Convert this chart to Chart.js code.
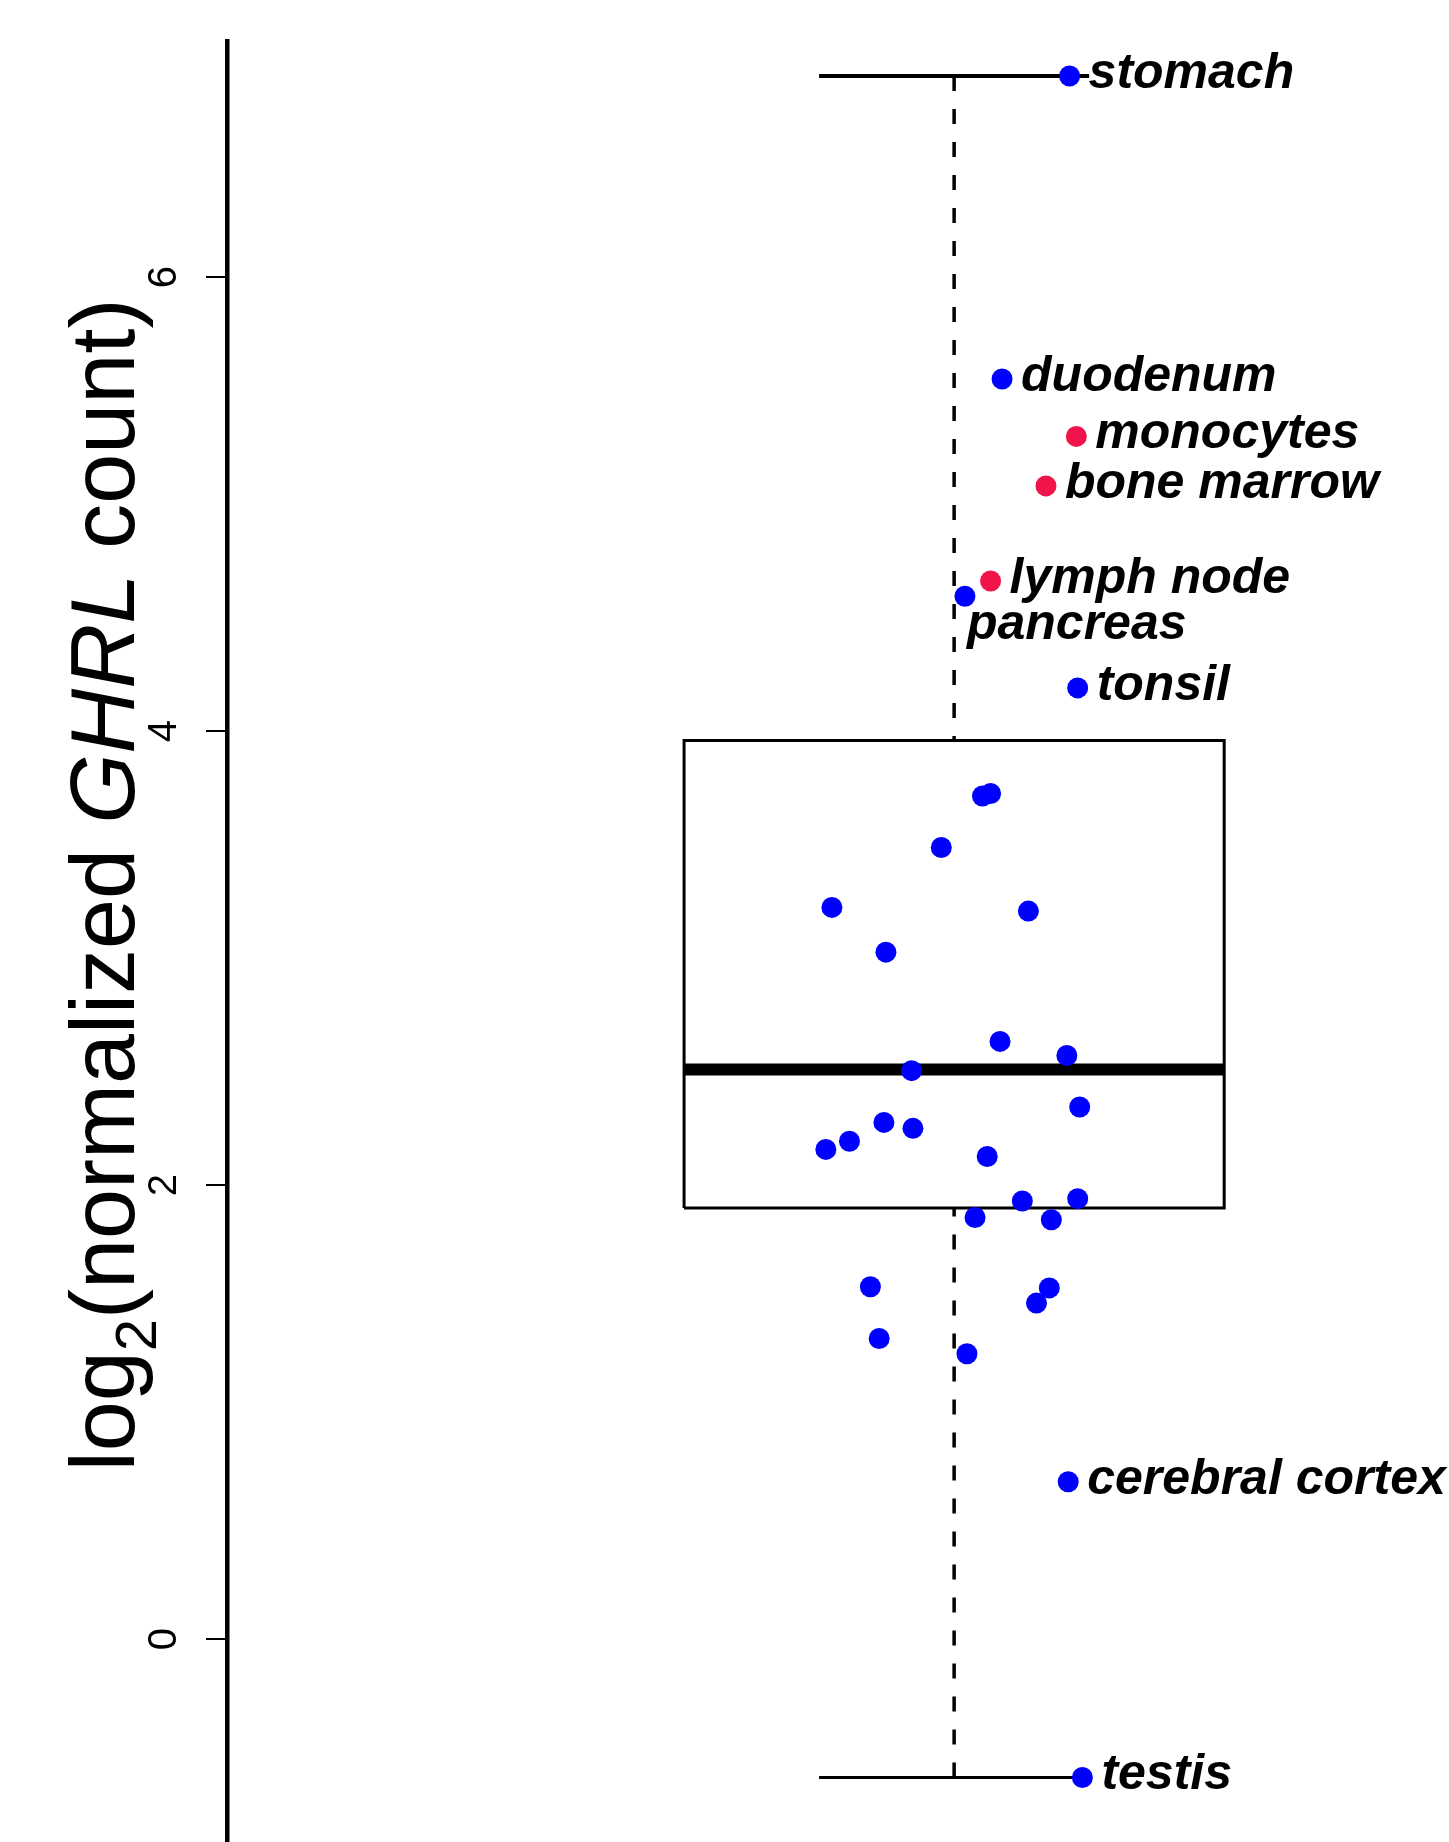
<!DOCTYPE html>
<html>
<head>
<meta charset="utf-8">
<script src="https://cdn.jsdelivr.net/npm/chart.js@4/dist/chart.umd.min.js"></script>
<style>
  html, body { margin: 0; padding: 0; background: #fff; }
  #wrap { width: 1449px; height: 1842px; position: relative; }
</style>
</head>
<body>
<div id="wrap"><canvas id="ghrlChart"></canvas></div>
<script>
// ---- data ----
// labelled tissues (outliers / extremes)
var tissueNames   = ["stomach", "duodenum", "monocytes", "bone marrow", "lymph node", "pancreas", "tonsil", "cerebral cortex", "testis"];
var tissueValues  = [6.886, 5.551, 5.298, 5.080, 4.661, 4.594, 4.190, 0.693, -0.610];
var tissueJitter  = [1.171, 1.071, 1.181, 1.136, 1.054, 1.016, 1.183, 1.169, 1.190];
var tissueImmune  = [false, false, true, true, true, false, false, false, false];
var labelSide     = ["right", "right", "right", "right", "right", "below", "right", "right", "right"];

// unlabelled tissues inside the box / near it
var otherValues = [3.714, 3.725, 3.487, 3.223, 3.207, 3.026, 2.633, 2.571, 2.504, 2.344, 2.276, 2.250,
                   2.193, 2.157, 2.126, 1.930, 1.940, 1.857, 1.847, 1.552, 1.547, 1.480, 1.324, 1.257];
var otherJitter = [1.042, 1.054, 0.981, 0.819, 1.110, 0.899, 1.068, 1.167, 0.937, 1.186, 0.896, 0.939,
                   0.845, 0.810, 1.049, 1.101, 1.183, 1.031, 1.144, 0.876, 1.141, 1.122, 0.889, 1.019];

// boxplot summary: lower whisker, Q1, median, Q3, upper whisker
var boxStats = [-0.610, 1.899, 2.509, 3.958, 6.886];
var yTicks = [0, 2, 4, 6];

var BLUE = "#0000ff";
var RED = "#f0144a";
var boxCenter = 1, boxHalf = 0.4, capHalf = 0.2;

var bluePts = [], redPts = [];
for (var i = 0; i < otherValues.length; i++) {
  bluePts.push({x: otherJitter[i], y: otherValues[i]});
}
for (var j = 0; j < tissueNames.length; j++) {
  var p = {x: tissueJitter[j], y: tissueValues[j], name: tissueNames[j], side: labelSide[j]};
  if (tissueImmune[j]) redPts.push(p); else bluePts.push(p);
}

function seg(pts, width, dash, ord) {
  return {
    type: "line", data: pts, borderColor: "#000", borderWidth: width,
    borderDash: dash || [], pointRadius: 0, fill: false, tension: 0,
    borderJoinStyle: "miter", order: ord || 2
  };
}

var lo = boxStats[0], q1 = boxStats[1], med = boxStats[2], q3 = boxStats[3], hi = boxStats[4];

// labels next to named points
var pointLabels = {
  id: "pointLabels",
  afterDatasetsDraw: function(chart) {
    var ctx = chart.ctx;
    ctx.save();
    ctx.fillStyle = "#000";
    ctx.font = "italic bold 50px 'Liberation Sans', Arial, sans-serif";
    ctx.textAlign = "left";
    ctx.textBaseline = "middle";
    chart.data.datasets.forEach(function(ds, di) {
      if (ds.type !== "scatter") return;
      var meta = chart.getDatasetMeta(di);
      ds.data.forEach(function(d, k) {
        if (!d.name) return;
        var el = meta.data[k];
        if (d.side === "below") {
          ctx.fillText(d.name, el.x + 2, el.y + 29);
        } else {
          ctx.fillText(d.name, el.x + 19, el.y - 2);
        }
      });
    });
    ctx.restore();
  }
};

// y axis title with subscript and italic gene name
var axisTitle = {
  id: "axisTitle",
  afterDraw: function(chart) {
    var ctx = chart.ctx;
    var parts = [
      {t: "log", f: "90px 'Liberation Sans', Arial, sans-serif", dy: 0},
      {t: "2", f: "58px 'Liberation Sans', Arial, sans-serif", dy: 22},
      {t: "(normalized ", f: "90px 'Liberation Sans', Arial, sans-serif", dy: 0},
      {t: "GHRL", f: "italic 90px 'Liberation Sans', Arial, sans-serif", dy: 0},
      {t: " count)", f: "90px 'Liberation Sans', Arial, sans-serif", dy: 0}
    ];
    ctx.save();
    var total = 0;
    parts.forEach(function(p) { ctx.font = p.f; p.w = ctx.measureText(p.t).width; total += p.w; });
    ctx.translate(134, 885);
    ctx.rotate(-Math.PI / 2);
    ctx.fillStyle = "#000";
    ctx.textAlign = "left";
    ctx.textBaseline = "alphabetic";
    var x = -total / 2;
    parts.forEach(function(p) { ctx.font = p.f; ctx.fillText(p.t, x, p.dy); x += p.w; });
    ctx.restore();
  }
};

new Chart(document.getElementById("ghrlChart"), {
  data: {
    datasets: [
      // box
      seg([{x: boxCenter - boxHalf, y: q1}, {x: boxCenter + boxHalf, y: q1}, {x: boxCenter + boxHalf, y: q3},
           {x: boxCenter - boxHalf, y: q3}, {x: boxCenter - boxHalf, y: q1}], 3),
      // median
      seg([{x: boxCenter - boxHalf, y: med}, {x: boxCenter + boxHalf, y: med}], 12),
      // whiskers
      seg([{x: boxCenter, y: hi}, {x: boxCenter, y: q3}], 3.5, [15, 18]),
      seg([{x: boxCenter, y: lo}, {x: boxCenter, y: q1}], 3.5, [15, 18]),
      // caps
      seg([{x: boxCenter - capHalf, y: hi}, {x: boxCenter + capHalf, y: hi}], 4),
      seg([{x: boxCenter - capHalf, y: lo}, {x: boxCenter + capHalf, y: lo}], 3),
      // points
      {type: "scatter", data: bluePts, backgroundColor: BLUE, borderWidth: 0, pointRadius: 10.5, order: 0},
      {type: "scatter", data: redPts, backgroundColor: RED, borderWidth: 0, pointRadius: 10.5, order: 0}
    ]
  },
  options: {
    responsive: true,
    maintainAspectRatio: false,
    animation: false,
    layout: { autoPadding: false, padding: { top: 41, left: 0, right: 0, bottom: 0 } },
    plugins: { legend: { display: false }, tooltip: { enabled: false } },
    scales: {
      x: { type: "linear", min: -0.077, max: 1.733, display: false },
      y: {
        type: "linear", position: "left", min: -0.894, max: 7.04,
        afterBuildTicks: function(s) { s.ticks = yTicks.map(function(v) { return {value: v}; }); },
        afterFit: function(s) { s.width = 227; s.paddingTop = 0; s.paddingBottom = 0; },
        grid: { drawOnChartArea: false, tickLength: 21, color: "#000", lineWidth: 2 },
        border: { color: "#000", width: 4.5 },
        ticks: {
          minRotation: 90, maxRotation: 90, crossAlign: "center", padding: 30,
          color: "#000", font: { family: "'Liberation Sans', Arial, sans-serif", size: 40 }
        }
      }
    }
  },
  plugins: [pointLabels, axisTitle]
});
</script>
</body>
</html>
